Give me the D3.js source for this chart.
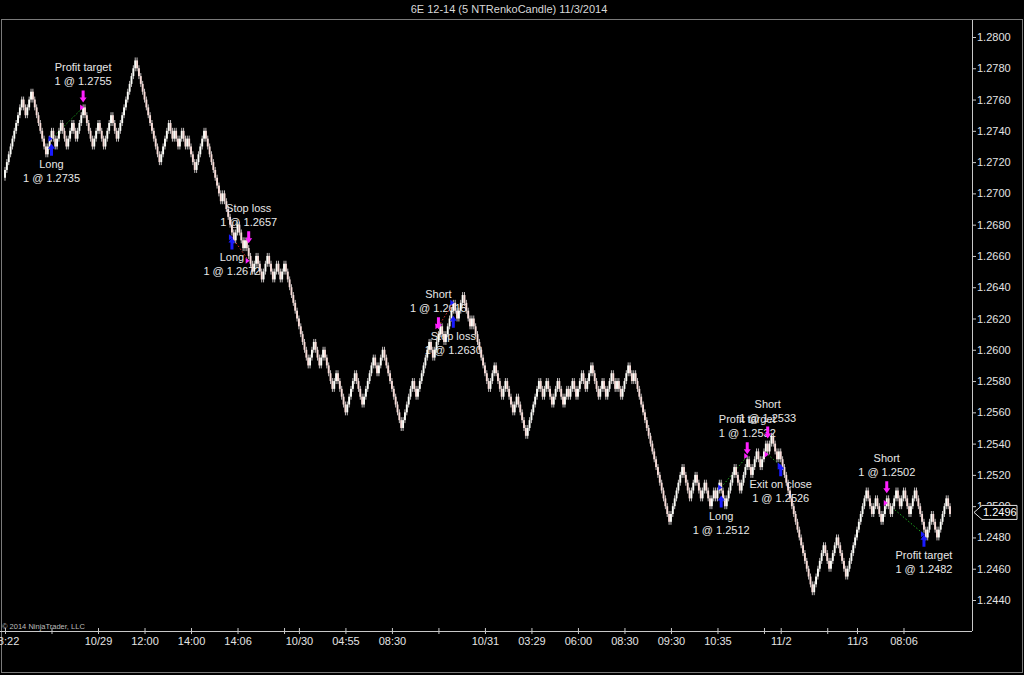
<!DOCTYPE html>
<html><head><meta charset="utf-8">
<script src="https://cdn.jsdelivr.net/npm/d3@7"></script>
<style>body{margin:0;background:#000;}svg{display:block}</style>
</head><body><svg id="c" width="1024" height="675"></svg>
<script>
const title = "6E 12-14 (5 NTRenkoCandle)  11/3/2014";
const copyright = "\u00a9 2014 NinjaTrader, LLC";
const brickTicks = 5; // 5 ticks of 0.0001

// Renko swing levels (brick closes at each reversal)
const swings1 = [1.2710, 1.2760, 1.2750, 1.2765, 1.2725, 1.2740, 1.2730, 1.2745, 1.2730, 1.2745, 1.2735, 1.2755, 1.2730, 1.2745, 1.2730, 1.2750, 1.2735, 1.2745, 1.2785];
const swings2 = [1.2720, 1.2745, 1.2735, 1.2740, 1.2730, 1.2740, 1.2730, 1.2735, 1.2715, 1.2740, 1.2695, 1.2700, 1.2670, 1.2680, 1.2665, 1.2670, 1.2650, 1.2660, 1.2645, 1.2660, 1.2645, 1.2655, 1.2645, 1.2655, 1.2590, 1.2605, 1.2590, 1.2600, 1.2575, 1.2585, 1.2560, 1.2585, 1.2565, 1.2595, 1.2585, 1.2600, 1.2550, 1.2580, 1.2570, 1.2605, 1.2595, 1.2615, 1.2605, 1.2630, 1.2620, 1.2635];
const swings3 = [1.2615, 1.2620, 1.2575, 1.2590, 1.2570, 1.2580, 1.2560, 1.2570, 1.2545, 1.2580, 1.2570, 1.2580, 1.2565, 1.2580, 1.2565, 1.2575, 1.2570, 1.2580, 1.2570, 1.2585, 1.2575, 1.2590, 1.2570, 1.2580, 1.2570, 1.2585, 1.2575, 1.2580, 1.2570, 1.2590, 1.2580, 1.2585, 1.2490];
const swings4 = [1.2525, 1.2505, 1.2520, 1.2505, 1.2515, 1.2500, 1.2510, 1.2505, 1.2515, 1.2500, 1.2525, 1.2510, 1.2530, 1.2520, 1.2535, 1.2525, 1.2540, 1.2535, 1.2545, 1.2530, 1.2535, 1.2445];
const swings5 = [1.2475, 1.2460, 1.2480, 1.2455, 1.2510, 1.2495, 1.2505, 1.2490, 1.2505, 1.2495, 1.2510, 1.2500, 1.2510, 1.2495, 1.2505, 1.2510, 1.2480, 1.2495, 1.2480, 1.2505, 1.2495];

const priceTicks = [1.2440, 1.2460, 1.2480, 1.2500, 1.2520, 1.2540, 1.2560, 1.2580, 1.2600, 1.2620, 1.2640, 1.2660, 1.2680, 1.2700, 1.2720, 1.2740, 1.2760, 1.2780, 1.2800];
const timeTickBars = [0, 25, 50, 75, 100, 125, 150, 158, 183, 208, 233, 258, 283, 308, 333, 358, 383, 408, 417, 442, 458, 483];
const timeTickLabels = ["08:22", "", "10/29", "12:00", "14:00", "14:06", "", "10/30", "04:55", "08:30", "", "10/31", "03:29", "06:00", "08:30", "09:30", "10:35", "", "11/2", "", "11/3", "08:06"];

const execBars   = [25, 42, 122, 131, 233, 241, 385, 399, 410, 417, 474, 494];
const execPrices = [1.2735, 1.2755, 1.2672, 1.2657, 1.2615, 1.2630, 1.2512, 1.2532, 1.2533, 1.2526, 1.2502, 1.2482];
const execNames  = ["Long", "Profit target", "Long", "Stop loss", "Short", "Stop loss", "Long", "Profit target", "Short", "Exit on close", "Short", "Profit target"];
const execSides  = ["buy", "sell", "buy", "sell", "sell", "buy", "buy", "sell", "sell", "buy", "sell", "buy"];
const tradePairs = [[0, 1], [2, 3], [4, 5], [6, 7], [8, 9], [10, 11]];
const lastPrice = 1.2496;

// ---- build bricks ----
const swings = [].concat(swings1, swings2, swings3, swings4, swings5).map(p => Math.round(p * 10000));
const bars = [];
let level = swings[0];
for (let k = 1; k < swings.length; k++) {
  const t = swings[k];
  const dir = t > level ? 1 : -1;
  while (level !== t) {
    const o = level;
    level += dir * brickTicks;
    bars.push({o: o / 10000, c: level / 10000, up: dir > 0});
  }
}

const svg = d3.select('#c');
const W = 1024, H = 675;
const plotR = 972, axisY = 631;
const font = '"Liberation Sans", Arial, sans-serif';

svg.append('rect').attr('width', W).attr('height', H).attr('fill', '#000');

const x = d3.scaleLinear().domain([0, 508]).range([5, 950]);
const y = d3.scaleLinear().domain([1.2440, 1.2800]).range([600, 37]);

// title
svg.append('text').attr('x', 509).attr('y', 13).attr('text-anchor', 'middle')
  .attr('fill', '#d8d8d8').style('font', '11px ' + font).text(title);
// frame
svg.append('rect').attr('x', 1.5).attr('y', 19.5).attr('width', 1021).attr('height', 653)
  .attr('fill', 'none').attr('stroke', '#7a7a7a');

// y axis
const yAxis = d3.axisRight(y).tickValues(priceTicks).tickFormat(d3.format('.4f')).tickSize(4).tickPadding(1);
const gy = svg.append('g').attr('transform', `translate(${plotR},0)`).call(yAxis);
gy.select('.domain').remove();
gy.selectAll('line').attr('stroke', '#c8c8c8');
gy.selectAll('text').attr('fill', '#e4e4e4').style('font', '11px ' + font);
svg.append('line').attr('x1', plotR + 0.5).attr('x2', plotR + 0.5).attr('y1', 20).attr('y2', axisY)
  .attr('stroke', '#c8c8c8');

// x axis
svg.append('line').attr('x1', 0).attr('x2', plotR).attr('y1', axisY + 0.5).attr('y2', axisY + 0.5).attr('stroke', '#c8c8c8');
const xAxis = d3.axisBottom(x).tickValues(timeTickBars).tickFormat((d, i) => timeTickLabels[i]).tickSize(3).tickPadding(3);
const gx = svg.append('g').attr('transform', `translate(0,${axisY})`).call(xAxis);
gx.select('.domain').remove();
gx.selectAll('line').attr('stroke', '#c8c8c8').attr('y1', -3);
gx.selectAll('text').attr('fill', '#e4e4e4').style('font', '11px ' + font);

svg.append('text').attr('x', 2).attr('y', 629).attr('fill', '#bdbdbd')
  .style('font', '7.5px ' + font).text(copyright);

// execution texts (drawn beneath bars)
const execG = svg.append('g');
const bi = i => Math.min(i, bars.length - 1);
const wick = 3;
const barHi = i => y(Math.max(bars[bi(i)].o, bars[bi(i)].c)) - wick;
const barLo = i => y(Math.min(bars[bi(i)].o, bars[bi(i)].c)) + wick;
execBars.forEach((b, i) => {
  const cx = x(b);
  const buy = execSides[i] === 'buy';
  const l2 = `1 @ ${execPrices[i].toFixed(4)}`;
  if (buy) {
    const tip = barLo(b) + 2;
    execG.append('text').attr('x', cx).attr('y', tip + 24).attr('text-anchor', 'middle').attr('fill', '#e8e8e8').style('font', '11px ' + font).text(execNames[i]);
    execG.append('text').attr('x', cx).attr('y', tip + 38).attr('text-anchor', 'middle').attr('fill', '#e8e8e8').style('font', '11px ' + font).text(l2);
  } else {
    const tip = barHi(b) - 2;
    execG.append('text').attr('x', cx).attr('y', tip - 31).attr('text-anchor', 'middle').attr('fill', '#e8e8e8').style('font', '11px ' + font).text(execNames[i]);
    execG.append('text').attr('x', cx).attr('y', tip - 17).attr('text-anchor', 'middle').attr('fill', '#e8e8e8').style('font', '11px ' + font).text(l2);
  }
});

// trade lines
tradePairs.forEach(([a, b]) => {
  const win = (execSides[a] === 'buy') ? execPrices[b] > execPrices[a] : execPrices[b] < execPrices[a];
  svg.append('line').attr('x1', x(execBars[a])).attr('y1', y(execPrices[a]))
    .attr('x2', x(execBars[b])).attr('y2', y(execPrices[b]))
    .attr('stroke', win ? '#1faa1f' : '#e03030').attr('stroke-width', 1).attr('stroke-dasharray', '1.5,2');
});

// bars: wicks then bodies
const bw = 1.9;
const gb = svg.append('g');
gb.selectAll('line').data(bars).join('line')
  .attr('x1', (d, i) => x(i)).attr('x2', (d, i) => x(i))
  .attr('y1', d => y(Math.max(d.o, d.c)) - wick)
  .attr('y2', d => y(Math.min(d.o, d.c)) + wick)
  .attr('stroke', '#d9d4d4').attr('stroke-width', 0.9);
gb.selectAll('rect').data(bars).join('rect')
  .attr('x', (d, i) => x(i) - bw / 2)
  .attr('y', d => y(Math.max(d.o, d.c)))
  .attr('width', bw)
  .attr('height', d => y(Math.min(d.o, d.c)) - y(Math.max(d.o, d.c)))
  .attr('fill', d => d.up ? '#fbfdf8' : '#f8dcd8');

// arrows and execution markers
execBars.forEach((b, i) => {
  const cx = x(b);
  const buy = execSides[i] === 'buy';
  const col = buy ? '#1a1aff' : '#ff20ff';
  if (buy) {
    const t = barLo(b) + 2;
    svg.append('path').attr('d', `M${cx},${t} L${cx + 3.5},${t + 5} L${cx + 1.5},${t + 5} L${cx + 1.5},${t + 12} L${cx - 1.5},${t + 12} L${cx - 1.5},${t + 5} L${cx - 3.5},${t + 5} Z`).attr('fill', col);
  } else {
    const t = barHi(b) - 2;
    svg.append('path').attr('d', `M${cx},${t} L${cx + 3.5},${t - 5} L${cx + 1.5},${t - 5} L${cx + 1.5},${t - 12} L${cx - 1.5},${t - 12} L${cx - 1.5},${t - 5} L${cx - 3.5},${t - 5} Z`).attr('fill', col);
  }
  const py = y(execPrices[i]);
  svg.append('path').attr('d', `M${cx - 3},${py - 3} L${cx + 1},${py} L${cx - 3},${py + 3} Z`).attr('fill', col);
});

// last price marker
const ly = y(lastPrice);
svg.append('path').attr('d', `M${plotR + 2},${ly} L${plotR + 10},${ly - 7} L${plotR + 45},${ly - 7} L${plotR + 45},${ly + 7} L${plotR + 10},${ly + 7} Z`)
  .attr('fill', '#000').attr('stroke', '#e0e0e0');
svg.append('text').attr('x', plotR + 11).attr('y', ly + 4).attr('fill', '#ffffff').style('font', '11px ' + font).text(lastPrice.toFixed(4));
</script></body></html>
